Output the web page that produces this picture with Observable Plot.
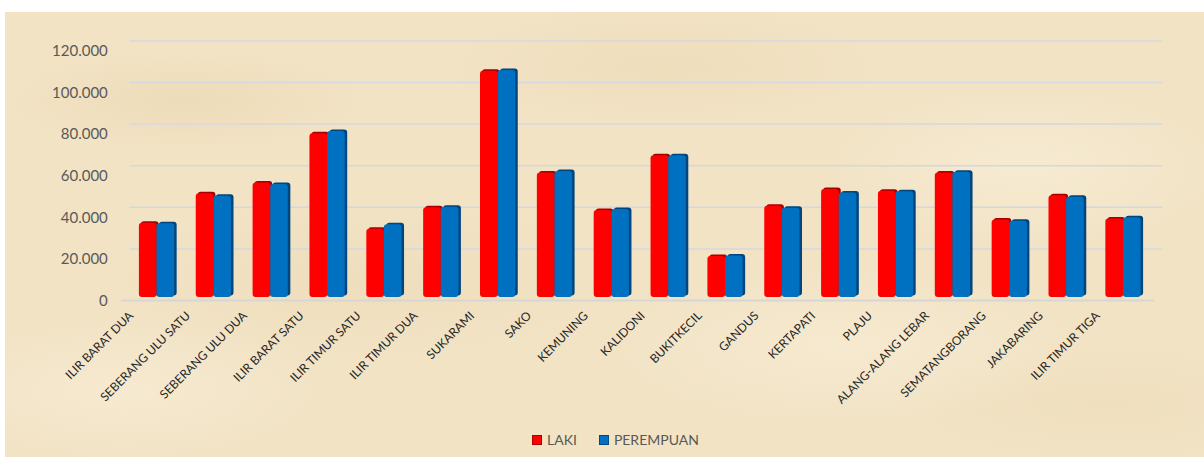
<!DOCTYPE html>
<html><head><meta charset="utf-8">
<script src="https://cdn.jsdelivr.net/npm/d3@7"></script>
<script src="https://cdn.jsdelivr.net/npm/@observablehq/plot@0.6"></script>
<style>
body{margin:0;background:#fff;width:1204px;height:459px;overflow:hidden;font-family:Lato,sans-serif}
#panel{position:absolute;left:5px;top:12px;width:1199px;height:445px;
background:
 radial-gradient(ellipse 180px 50px at 15% 20%, rgba(228,206,160,0.35), transparent),
 radial-gradient(ellipse 220px 60px at 55% 12%, rgba(230,208,165,0.3), transparent),
 radial-gradient(ellipse 200px 80px at 85% 35%, rgba(250,242,222,0.5), transparent),
 radial-gradient(ellipse 260px 80px at 30% 60%, rgba(230,210,168,0.3), transparent),
 radial-gradient(ellipse 240px 80px at 70% 75%, rgba(250,240,218,0.5), transparent),
 radial-gradient(ellipse 200px 70px at 10% 85%, rgba(250,240,218,0.5), transparent),
 radial-gradient(ellipse 220px 60px at 92% 88%, rgba(232,214,175,0.3), transparent),
 #f2e3c5;}
#chart{position:absolute;left:0;top:0}
#legend{position:absolute;left:527px;top:419px;display:flex;align-items:center;font-size:14px;color:#595959;font-family:Lato,sans-serif}
.sw{width:8px;height:8px;margin-right:5px;border:1px solid}
</style></head>
<body>
<div id="panel">
<div id="chart"></div>
<div id="legend">
 <span class="sw" style="background:#ff0000;border-color:#b00000"></span><span style="margin-right:22px">LAKI</span>
 <span class="sw" style="background:#0070c0;border-color:#004a80"></span><span>PEREMPUAN</span>
</div>
</div>
<script>
const categories = ["ILIR BARAT DUA","SEBERANG ULU SATU","SEBERANG ULU DUA","ILIR BARAT SATU","ILIR TIMUR SATU","ILIR TIMUR DUA","SUKARAMI","SAKO","KEMUNING","KALIDONI","BUKITKECIL","GANDUS","KERTAPATI","PLAJU","ALANG-ALANG LEBAR","SEMATANGBORANG","JAKABARING","ILIR TIMUR TIGA"];
const laki = [35700, 49850, 55100, 78700, 32800, 43100, 108800, 59800, 41800, 68100, 19700, 43900, 51900, 51100, 59900, 37300, 48900, 37800];
const perempuan = [35400, 48700, 54300, 79800, 34950, 43400, 109100, 60600, 42300, 68100, 20000, 42900, 50300, 50800, 60200, 36700, 48200, 38300];
const yTicks = [0, 20000, 40000, 60000, 80000, 100000, 120000];

const data = categories.map((c, i) => ({c, laki: laki[i], perempuan: perempuan[i]}));
const fmt = d => d3.format(",")(d).replace(/,/g, ".");

const chart = Plot.plot({
  width: 1199, height: 410,
  marginLeft: 112.3, marginRight: 41.8, marginTop: 35.4, marginBottom: 125,
  x: {domain: categories, padding: 0.38, round: false, axis: null},
  y: {domain: [0, 120000], axis: null},
  style: {background: "transparent", fontFamily: "Lato, sans-serif", overflow: "visible"},
  marks: [
    Plot.ruleY(yTicks.slice(1), {y: d => d, stroke: "#d3d8df", strokeWidth: 1.5, dy: -7, insetLeft: 12}),
    Plot.ruleY([0], {stroke: "#d6d6d6", strokeWidth: 2, dy: 3, insetLeft: 4, insetRight: 8}),
    Plot.axisY({ticks: yTicks, tickSize: 0, tickPadding: 10, tickFormat: fmt, fontSize: 15, color: "#595959", dy: 3.5}),
    Plot.barY(data, {x: "c", y: "perempuan", insetLeft: 17.6, fill: "#00457c", dx: 2.5, dy: -1.5, rx: 3}),
    Plot.barY(data, {x: "c", y: "laki", insetRight: 17.6, fill: "#a80000", dx: 2, dy: -1.5, rx: 3}),
    Plot.barY(data, {x: "c", y: "laki", insetRight: 17.6, fill: "#ff0000", rx: 3}),
    Plot.barY(data, {x: "c", y: "perempuan", insetLeft: 17.6, fill: "#0070c0", rx: 3}),
    Plot.text(categories, {x: d => d, frameAnchor: "bottom", text: d => d, rotate: -45, textAnchor: "end", dx: -23, dy: 19, fontSize: 12, fill: "#262626"})
  ]
});
document.getElementById("chart").appendChild(chart);
</script>
</body></html>
